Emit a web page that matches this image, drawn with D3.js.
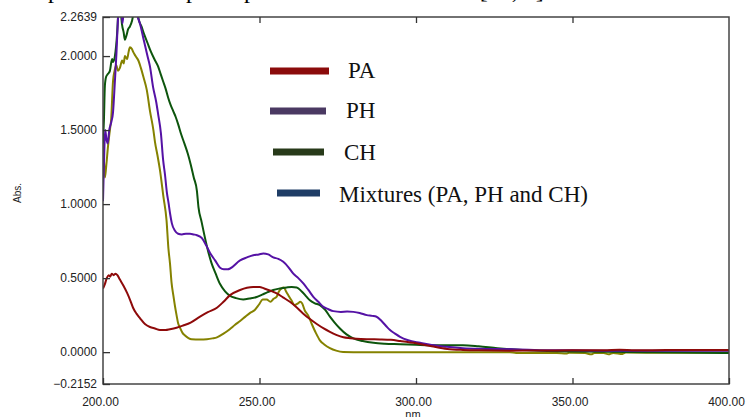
<!DOCTYPE html>
<html>
<head>
<meta charset="utf-8">
<script src="https://cdn.jsdelivr.net/npm/d3@7"></script>
<style>
body{margin:0;background:#fff;}
svg{display:block;}
</style>
</head>
<body>
<svg id="chart" width="747" height="417"></svg>
<script>
// spectra: [wavelength nm, absorbance]
var paData = [[200,0.43],[200.6,0.46],[201.2,0.50],[201.8,0.52],[202.3,0.51],[202.8,0.53],[203.4,0.52],[204,0.53],[204.6,0.52],[205.4,0.49],[206.5,0.45],[207.7,0.40],[208.7,0.35],[209.6,0.30],[210.7,0.26],[211.8,0.23],[213.4,0.19],[215,0.17],[216.6,0.16],[218.2,0.15],[220,0.15],[221.4,0.155],[223.5,0.165],[225.6,0.18],[228,0.20],[231,0.24],[233.5,0.27],[236.4,0.30],[238.5,0.34],[240.6,0.385],[243.8,0.42],[246,0.435],[248,0.44],[250,0.44],[251.5,0.43],[253.5,0.415],[255.5,0.397],[257.5,0.37],[259.7,0.34],[262,0.30],[264,0.26],[266,0.225],[268.3,0.19],[270.5,0.16],[272.5,0.137],[274.5,0.117],[276.8,0.10],[279,0.094],[281,0.09],[285,0.087],[288.5,0.086],[292,0.083],[295,0.075],[300,0.06],[305,0.04],[310,0.022],[315,0.015],[320,0.012],[330,0.01],[340,0.011],[350,0.012],[360,0.012],[365,0.016],[370,0.013],[380,0.014],[390,0.015],[400,0.015]];

var phData = [[200,1.02],[200.4,1.35],[200.7,1.50],[201.1,1.44],[201.5,1.41],[202,1.50],[202.6,1.55],[203.2,1.62],[203.8,1.83],[204.3,2.02],[204.8,2.26],[205.3,2.40],[205.8,2.35],[206.2,2.22],[206.6,2.30],[207.3,2.40],[208.5,2.45],[209.5,2.40],[210.3,2.33],[211,2.27],[211.8,2.22],[213,2.11],[214.1,2.01],[215,1.93],[216,1.79],[217,1.69],[217.6,1.61],[218.5,1.48],[219.2,1.30],[219.8,1.20],[220.4,1.08],[221,1.0],[221.4,0.94],[222,0.87],[223,0.82],[224,0.80],[225.2,0.795],[226.5,0.80],[227.8,0.80],[229,0.795],[230,0.79],[231.6,0.77],[233,0.72],[234.2,0.67],[235.8,0.62],[237.4,0.57],[238.6,0.56],[239.9,0.56],[240.6,0.565],[243.8,0.62],[246,0.64],[248,0.655],[249.8,0.66],[251.2,0.667],[252.8,0.66],[254.4,0.64],[256,0.63],[257.6,0.61],[259.2,0.575],[260.8,0.53],[262.4,0.50],[264,0.464],[265.6,0.42],[267.2,0.374],[268.8,0.34],[270.4,0.306],[272,0.29],[273.6,0.277],[276,0.272],[278,0.274],[280,0.272],[282,0.265],[284.3,0.25],[286,0.245],[287.4,0.239],[289,0.21],[290.5,0.175],[291.7,0.149],[293.3,0.125],[294.9,0.103],[297.5,0.08],[301.3,0.063],[305,0.048],[309.8,0.036],[315,0.027],[320,0.023],[331,0.02],[342,0.013],[350,0.012],[360,0.01],[380,0.01],[400,0.01]];

var chData = [[200,1.41],[200.3,1.57],[200.6,1.80],[201,1.86],[201.6,1.88],[202.2,1.90],[202.9,1.98],[203.2,1.96],[203.8,2.0],[204.5,2.15],[204.9,2.30],[205.4,2.38],[205.9,2.25],[206.1,2.21],[206.6,2.16],[207,2.11],[207.5,2.14],[208,2.18],[208.6,2.20],[209.3,2.24],[210,2.32],[210.6,2.35],[211.2,2.27],[211.5,2.24],[212.3,2.20],[213.1,2.15],[214.2,2.09],[215.3,2.03],[216.4,1.98],[217.6,1.93],[218.4,1.88],[219.2,1.83],[220,1.78],[220.8,1.72],[221.6,1.67],[222.4,1.63],[223.2,1.59],[224,1.54],[225,1.47],[226,1.41],[227.1,1.34],[228,1.27],[229,1.18],[230,1.09],[230.5,0.98],[231.5,0.88],[232.6,0.77],[233.6,0.68],[234.7,0.60],[236,0.53],[237.4,0.46],[239,0.41],[240.6,0.38],[242.5,0.365],[244.8,0.356],[246.8,0.362],[249.1,0.372],[251,0.39],[252.6,0.405],[254.4,0.42],[256.5,0.43],[258.7,0.437],[260.3,0.44],[261.9,0.437],[263.5,0.41],[265,0.375],[266.1,0.35],[267.7,0.33],[269.3,0.318],[271,0.285],[272.5,0.24],[274,0.20],[275.7,0.16],[277.8,0.12],[280,0.093],[283,0.075],[286.4,0.063],[290,0.057],[294.9,0.054],[300,0.05],[304.5,0.047],[310,0.047],[315,0.047],[320,0.04],[326,0.027],[334,0.015],[342,0.008],[350,0.004],[360,0.002],[374,0.0],[385,-0.003],[400,-0.006]];

var mixData = [[200,1.46],[200.3,1.30],[200.6,1.18],[201,1.25],[201.6,1.39],[202.2,1.50],[202.6,1.57],[203.2,1.83],[203.7,1.90],[204.2,1.94],[204.8,1.90],[205.4,1.92],[206.1,1.97],[206.6,1.95],[207,2.0],[207.7,1.98],[208.2,2.03],[208.6,2.06],[209.2,2.05],[209.6,2.03],[210.4,2.0],[211.3,1.97],[212.1,1.92],[212.9,1.86],[214,1.77],[215,1.63],[216.1,1.50],[216.6,1.42],[217.4,1.33],[218.2,1.23],[219.3,1.05],[220.3,0.89],[220.9,0.70],[221.4,0.60],[221.9,0.47],[222.5,0.38],[223,0.31],[223.5,0.25],[224,0.195],[224.6,0.165],[225.4,0.13],[226.2,0.112],[227.3,0.095],[228.3,0.087],[231,0.085],[233.2,0.087],[235,0.093],[236.4,0.10],[238.5,0.125],[240.5,0.155],[242.2,0.185],[243.8,0.21],[245.5,0.24],[247,0.265],[248.5,0.285],[249.8,0.32],[251,0.355],[252.3,0.356],[253.5,0.34],[254.5,0.36],[255.5,0.375],[256.2,0.41],[257,0.43],[257.8,0.437],[258.5,0.41],[259.2,0.385],[260.2,0.35],[261.2,0.318],[262.3,0.33],[263,0.34],[263.6,0.33],[264.5,0.28],[265.5,0.25],[266.7,0.19],[268,0.13],[269.3,0.08],[270.8,0.05],[272.5,0.027],[274.5,0.01],[276.7,0.001],[280,0.0],[300,0.0],[320,0.0],[330,0.0],[332,-0.005],[345,-0.005],[348,-0.01],[349,-0.004],[354,-0.006],[356,-0.015],[357,-0.005],[360,-0.006],[361.5,-0.015],[363,-0.005],[366,-0.012],[367,-0.003],[380,-0.004],[400,-0.003]];

var xTicks = [200, 250, 300, 350, 400];
var yTicks = [-0.2152, 0, 0.5, 1.0, 1.5, 2.0, 2.2639];

var legendLabels = ["PA", "PH", "CH", "Mixtures (PA, PH and CH)"];
var legendColors = ["#8b0b0b", "#4a3962", "#283a1a", "#1f3d66"];

var seriesData = [mixData, chData, phData, paData];
var seriesColors = ["#858200", "#0d550d", "#5512a5", "#8e0a0a"];

var svg = d3.select("#chart");
//plot box edges (window.top is reserved, so prefixed names)
var plotL = 103, plotR = 729, plotT = 17, plotB = 384;

var x = d3.scaleLinear().domain([200, 400]).range([plotL, plotR]);
var y = d3.scaleLinear().domain([-0.2152, 2.2639]).range([plotB, plotT]);

// clipped caption line above the chart (only descenders show)
svg.append("text")
	.attr("x", 1.3)
	.attr("y", -2)
	.style("font-family", "Liberation Serif, Times New Roman, serif")
	.style("font-size", "24px")
	.text("Comparison of the pure spectra and their mixture [10, 9]");

svg.append("defs").append("clipPath").attr("id", "plotclip")
	.append("rect")
	.attr("x", plotL).attr("y", plotT)
	.attr("width", plotR - plotL).attr("height", plotB - plotT);

//curves
var line = d3.line()
	.x(function(d) { return x(d[0]); })
	.y(function(d) { return y(d[1]); })
	.curve(d3.curveMonotoneX);

svg.append("g").attr("clip-path", "url(#plotclip)")
	.selectAll("path")
	.data(seriesData)
	.enter().append("path")
	.attr("d", line)
	.attr("fill", "none")
	.attr("stroke", function(d, i) { return seriesColors[i]; })
	.attr("stroke-width", 2)
	.attr("stroke-linejoin", "round");

// frame
svg.append("rect")
	.attr("x", plotL).attr("y", plotT)
	.attr("width", plotR - plotL).attr("height", plotB - plotT)
	.attr("fill", "none")
	.attr("stroke", "#444")
	.attr("stroke-width", 1.5);

var yAxis = svg.append("g")
	.attr("transform", "translate(" + plotL + ",0)")
	.call(d3.axisLeft(y).tickValues(yTicks).tickSize(-7).tickSizeOuter(0).tickPadding(6)
		.tickFormat(d3.format(".4f")));

var xAxis = svg.append("g")
	.attr("transform", "translate(0," + plotB + ")")
	.call(d3.axisBottom(x).tickValues(xTicks).tickSize(-6).tickSizeOuter(0).tickPadding(13)
		.tickFormat(d3.format(".2f")));

var topAxis = svg.append("g")
	.attr("transform", "translate(0," + plotT + ")")
	.call(d3.axisTop(x).tickValues(xTicks.slice(1, 4)).tickSize(-6).tickSizeOuter(0).tickFormat(""));

[yAxis, xAxis, topAxis].forEach(function(g) {
	g.select(".domain").remove();
	g.selectAll("line").attr("stroke", "#333").attr("stroke-width", 1.3);
	g.selectAll("text")
		.style("font-family", "Liberation Sans, Arial, sans-serif")
		.style("font-size", "12px")
		.attr("fill", "#222");
});
xAxis.selectAll("text").attr("dx", -3);

svg.append("text")
	.attr("transform", "translate(21,193) rotate(-90)")
	.attr("text-anchor", "middle")
	.style("font-family", "Liberation Sans, Arial, sans-serif")
	.style("font-size", "10px")
	.attr("fill", "#222")
	.text("Abs.");

svg.append("text")
	.attr("x", 413).attr("y", 418)
	.attr("text-anchor", "middle")
	.style("font-family", "Liberation Sans, Arial, sans-serif")
	.style("font-size", "11px")
	.attr("fill", "#222")
	.text("nm");

// legend
var legendPos = [
	{x1: 270, x2: 329, y: 71, tx: 348, ty: 78},
	{x1: 270, x2: 326, y: 111, tx: 346, ty: 118},
	{x1: 273, x2: 324, y: 152, tx: 344, ty: 160},
	{x1: 277, x2: 320, y: 193, tx: 339, ty: 202}
];

var legend = svg.append("g").selectAll("g")
	.data(legendLabels)
	.enter().append("g");

legend.append("line")
	.attr("x1", function(d, i) { return legendPos[i].x1; })
	.attr("x2", function(d, i) { return legendPos[i].x2; })
	.attr("y1", function(d, i) { return legendPos[i].y; })
	.attr("y2", function(d, i) { return legendPos[i].y; })
	.attr("stroke", function(d, i) { return legendColors[i]; })
	.attr("stroke-width", 7);

legend.append("text")
	.attr("x", function(d, i) { return legendPos[i].tx; })
	.attr("y", function(d, i) { return legendPos[i].ty; })
	.style("font-family", "Liberation Serif, Times New Roman, serif")
	.style("font-size", "23px")
	.attr("fill", "#111")
	.text(function(d) { return d; });
</script>
</body>
</html>
